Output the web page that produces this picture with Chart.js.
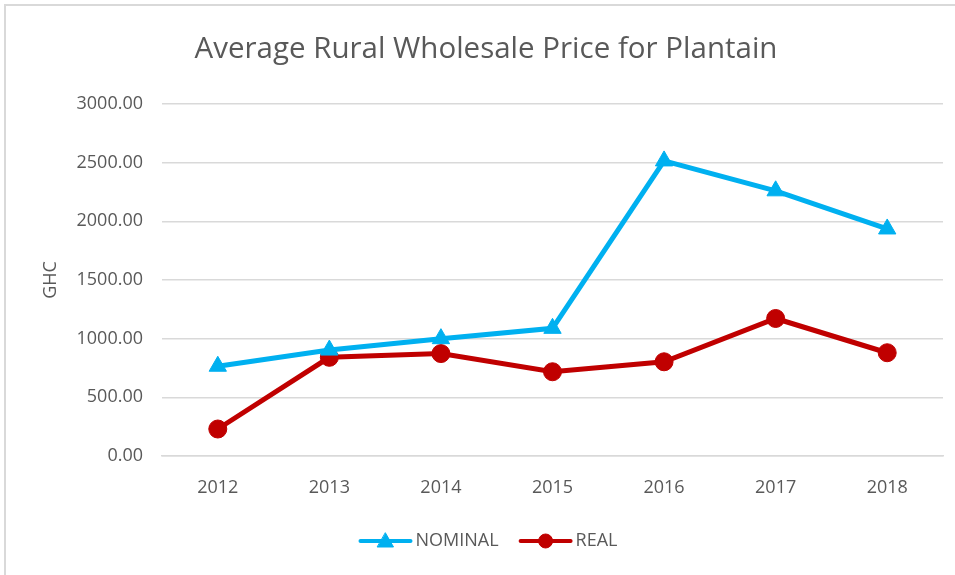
<!DOCTYPE html>
<html>
<head>
<meta charset="utf-8">
<script src="https://cdn.jsdelivr.net/npm/chart.js@4"></script>
<style>
  body { margin: 0; background: #fff; }
  #wrap { width: 955px; height: 575px; position: relative; }
</style>
</head>
<body>
<div id="wrap"><canvas id="chart" width="955" height="575"></canvas></div>
<script>
// data
var years = ["2012", "2013", "2014", "2015", "2016", "2017", "2018"];
var nominal = [765, 903, 1000, 1088, 2515, 2260, 1935];
var real = [230, 841, 873, 718, 803, 1172, 880];
var yTicks = [0, 500, 1000, 1500, 2000, 2500, 3000];
var chartTitle = "Average Rural Wholesale Price for Plantain";

var textColor = "#595959";
var fontName = "'Open Sans', 'Liberation Sans', sans-serif";

//frame, title and legend (line + marker) drawn like the office chart
var extras = {
  id: "extras",
  beforeDraw: function(chart) {
    var ctx = chart.ctx;
    ctx.save();
    ctx.fillStyle = "#fff";
    ctx.fillRect(0, 0, chart.width, chart.height);
    ctx.fillStyle = "#d9d9d9";
    ctx.fillRect(4, 4, chart.width - 4, 2);
    ctx.fillRect(4, 4, 2, chart.height - 4);
    ctx.restore();
  },
  afterDraw: function(chart) {
    var ctx = chart.ctx;
    ctx.save();
    // title
    ctx.font = "29.5px " + fontName;
    ctx.fillStyle = textColor;
    ctx.textAlign = "center";
    ctx.textBaseline = "middle";
    ctx.fillText(chartTitle, 486, 50);

    // legend
    ctx.font = "18px " + fontName;
    var sets = chart.data.datasets;
    var lineLen = 50, gap = 5, itemGap = 22;
    var total = 0;
    sets.forEach(function(ds, i) {
      total += lineLen + gap + ctx.measureText(ds.label).width;
      if (i > 0) total += itemGap;
    });
    var x = 489 - total / 2;
    var y = 541;
    sets.forEach(function(ds) {
      var mx = x + lineLen / 2;
      ctx.strokeStyle = ds.borderColor;
      ctx.lineWidth = 4;
      ctx.lineCap = "round";
      ctx.beginPath();
      ctx.moveTo(x, y);
      ctx.lineTo(x + lineLen, y);
      ctx.stroke();
      ctx.fillStyle = ds.pointBackgroundColor;
      ctx.strokeStyle = ds.pointBorderColor;
      ctx.lineWidth = 1;
      ctx.beginPath();
      if (ds.pointStyle === "circle") {
        ctx.arc(mx, y, 7, 0, Math.PI * 2);
      } else {
        ctx.moveTo(mx, y - 8);
        ctx.lineTo(mx + 8, y + 6);
        ctx.lineTo(mx - 8, y + 6);
        ctx.closePath();
      }
      ctx.fill();
      ctx.stroke();
      ctx.fillStyle = textColor;
      ctx.textAlign = "left";
      ctx.fillText(ds.label, x + lineLen + gap, y);
      x += lineLen + gap + ctx.measureText(ds.label).width + itemGap;
    });
    ctx.restore();
  }
};

new Chart(document.getElementById("chart"), {
  type: "line",
  data: {
    labels: years,
    datasets: [{
      label: "NOMINAL",
      data: nominal,
      borderColor: "#00B0F0",
      backgroundColor: "#00B0F0",
      pointBackgroundColor: "#00B0F0",
      pointBorderColor: "#00B0F0",
      pointStyle: "triangle",
      pointRadius: 10,
      pointBorderWidth: 1,
      borderWidth: 5,
      tension: 0
    }, {
      label: "REAL",
      data: real,
      borderColor: "#C00000",
      backgroundColor: "#C00000",
      pointBackgroundColor: "#C00000",
      pointBorderColor: "#C00000",
      pointStyle: "circle",
      pointRadius: 9,
      pointBorderWidth: 1,
      borderWidth: 5,
      tension: 0
    }]
  },
  options: {
    responsive: false,
    animation: false,
    layout: { padding: { left: 0, right: 12, top: 104, bottom: 0 } },
    plugins: {
      legend: { display: false },
      tooltip: { enabled: false },
      title: { display: false }
    },
    scales: {
      x: {
        offset: true,
        grid: { display: false, drawTicks: false },
        border: { display: true, color: "#d9d9d9", width: 1.5 },
        ticks: { color: textColor, font: { family: fontName, size: 18 }, padding: 21 },
        afterFit: function(s) { s.height = 119; }
      },
      y: {
        min: 0,
        max: 3000,
        afterBuildTicks: function(s) { s.ticks = yTicks.map(function(v) { return { value: v }; }); },
        grid: { color: "#d9d9d9", lineWidth: 1.5, drawTicks: false },
        border: { display: false },
        ticks: {
          color: textColor,
          font: { family: fontName, size: 18 },
          padding: 19,
          callback: function(v) { return Number(v).toFixed(2); }
        },
        title: {
          display: true,
          text: "GHC",
          color: textColor,
          font: { family: fontName, size: 18 },
          padding: { top: 40, bottom: 0 }
        },
        afterFit: function(s) { s.width = 162; }
      }
    }
  },
  plugins: [extras]
});
</script>
</body>
</html>
